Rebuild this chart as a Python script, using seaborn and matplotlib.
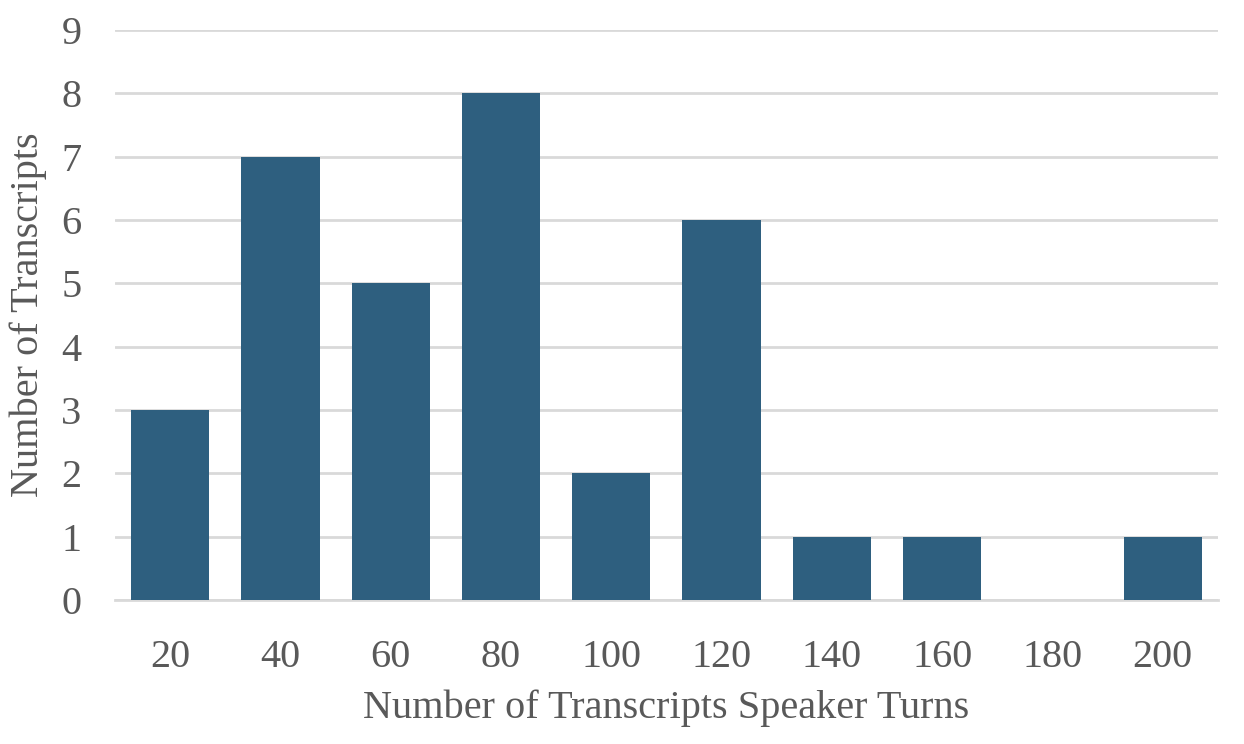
import numpy as np
import pandas as pd
import matplotlib
matplotlib.use("Agg")
import matplotlib.pyplot as plt
import seaborn as sns

# data
turns = ["20", "40", "60", "80", "100", "120", "140", "160", "180", "200"]
counts = [3, 7, 5, 8, 2, 6, 1, 1, 0, 1]

df = pd.DataFrame({"turns": turns, "count": counts})

sns.set_theme(style="white")
plt.rcParams['font.family'] = ['Liberation Serif', 'DejaVu Serif']

text_col = "#595959"
grid_col = "#D9D9D9"

fig = plt.figure(figsize=(12.44, 7.44), dpi=100)
ax = fig.add_axes([0.0924, 0.1935, 0.8866, 0.7662])

sns.barplot(data=df, x="turns", y="count", color="#2E5F7F", saturation=1,
            width=0.71, linewidth=0, ax=ax, zorder=3)

ax.set_ylim(0, 9)
ax.set_yticks(range(0, 10))
ax.set_xlim(-0.5, len(turns) - 0.5)
ax.yaxis.grid(True, color=grid_col, linewidth=2, zorder=0)
ax.set_axisbelow(True)
for s in ["top", "right", "left"]:
    ax.spines[s].set_visible(False)
ax.spines["bottom"].set_color(grid_col)
ax.spines["bottom"].set_linewidth(2)
ax.tick_params(axis="both", length=0, labelsize=29, colors=text_col)
ax.tick_params(axis="x", pad=28)
ax.tick_params(axis="y", pad=24)

ax.set_xlabel("Number of Transcripts Speaker Turns", fontsize=29, color=text_col, labelpad=10)
ax.set_ylabel("Number of Transcripts", fontsize=29, color=text_col, labelpad=10)

fig.savefig("out.png", dpi=100)
